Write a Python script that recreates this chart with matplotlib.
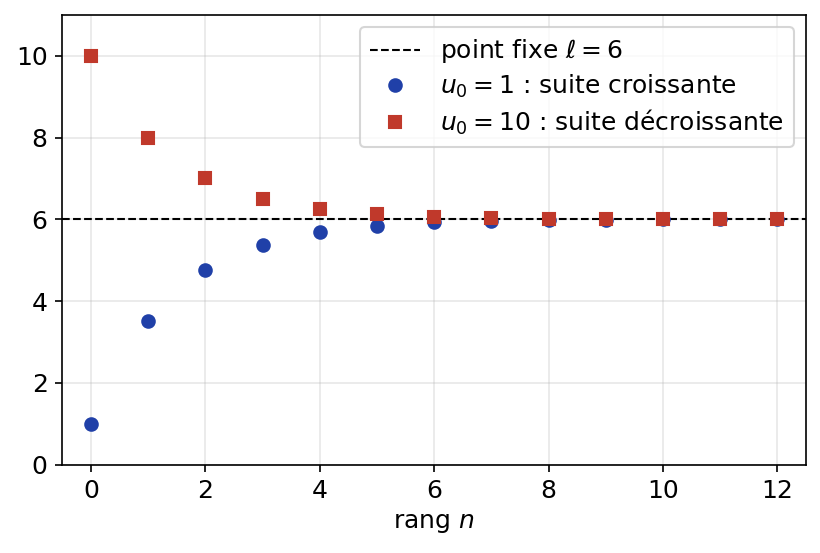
import matplotlib
matplotlib.use("Agg")
import matplotlib.pyplot as plt

plt.rcParams["font.size"] = 12

# ranks and the two sequences
rangs = [0, 1, 2, 3, 4, 5, 6, 7, 8, 9, 10, 11, 12]
u_croissante = [1, 3.5, 4.75, 5.375, 5.6875, 5.84375, 5.921875, 5.9609, 5.9805,
                5.9902, 5.9951, 5.9976, 5.9988]
u_decroissante = [10, 8, 7, 6.5, 6.25, 6.125, 6.0625, 6.03125, 6.0156,
                  6.0078, 6.0039, 6.0020, 6.0010]
point_fixe = 6

fig, ax = plt.subplots(figsize=(820 / 150, 553 / 150), dpi=150)

ax.axhline(point_fixe, color="black", linestyle="--", linewidth=1,
           label=r"point fixe $\ell = 6$")
ax.plot(rangs, u_croissante, "o", color="#2040a8", markersize=6,
        label=r"$u_0 = 1$ : suite croissante")
ax.plot(rangs, u_decroissante, "s", color="#c0392b", markersize=6,
        label=r"$u_0 = 10$ : suite décroissante")

ax.set_xlim(-0.5, 12.5)
ax.set_ylim(0, 11)
ax.set_xticks(range(0, 13, 2))
ax.set_yticks(range(0, 11, 2))
ax.set_xlabel(r"rang $n$")
ax.grid(True, alpha=0.3)
ax.legend(loc="upper right", labelspacing=0.3)

fig.subplots_adjust(left=0.076, right=0.983, top=0.973, bottom=0.16)
fig.savefig("out.png", dpi=150)
